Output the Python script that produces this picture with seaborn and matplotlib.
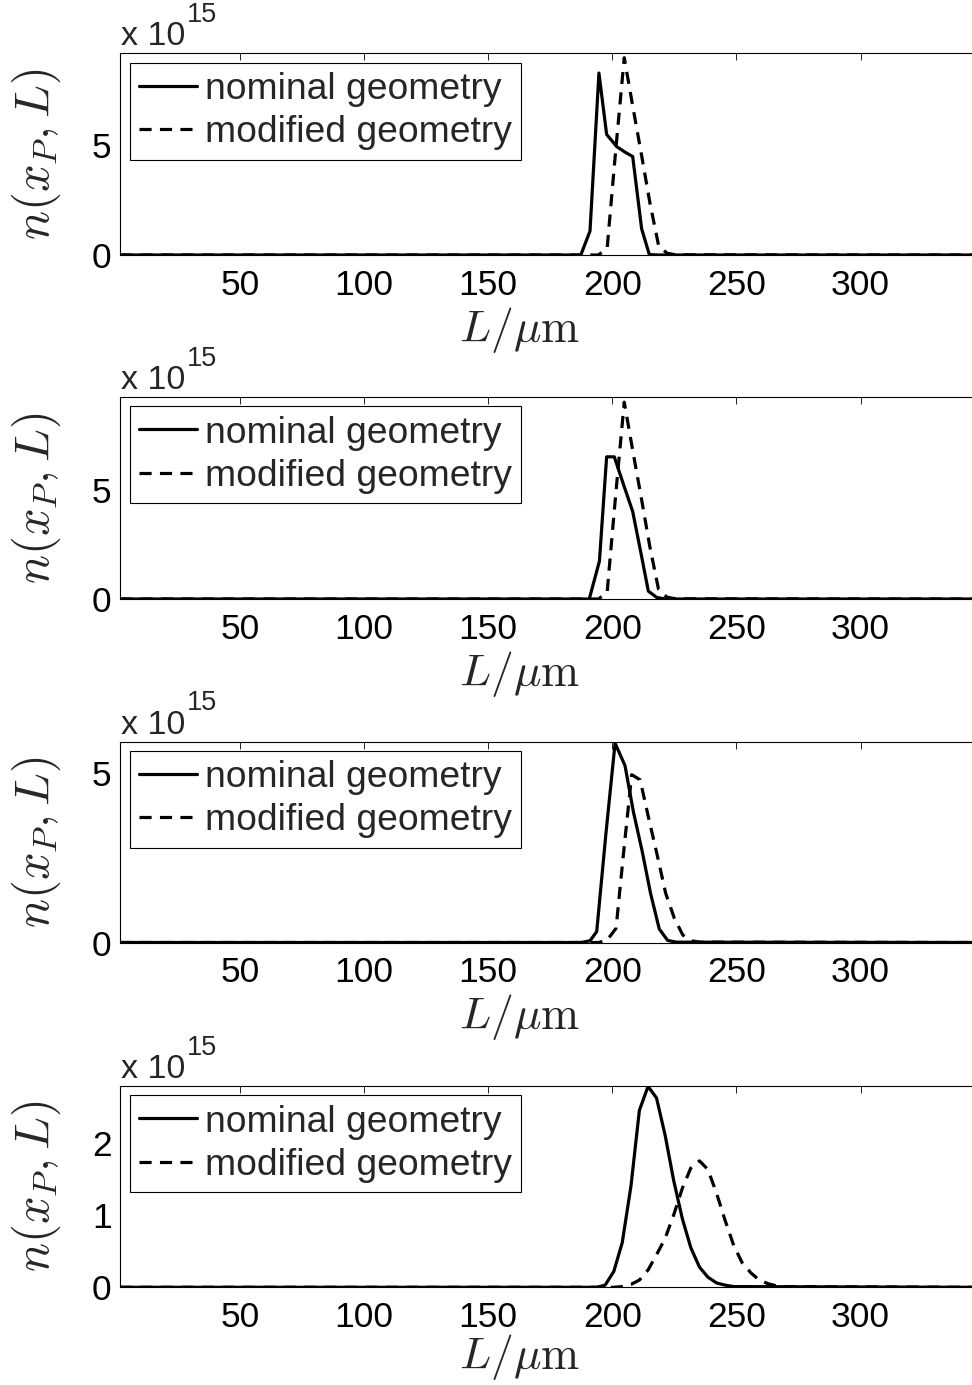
import numpy as np
import pandas as pd
import matplotlib
matplotlib.use("Agg")
import matplotlib.pyplot as plt
import seaborn as sns

# ---------------- data (values in units of 1e15) ----------------
labels = ["nominal geometry", "modified geometry"]
xticks = [50, 100, 150, 200, 250, 300]

L1_nom = [1.7, 187.3, 191.0, 194.6, 197.7, 201.8, 205.0, 208.2, 211.8, 214.9, 218.4, 345]
n1_nom = [0, 0, 1.09, 8.3, 5.5, 4.94, 4.7, 4.49, 1.2, 0.02, 0, 0]
L1_mod = [1.7, 194.4, 197.9, 201.3, 204.8, 208.2, 211.7, 215.1, 218.6, 222.0, 225.5, 345]
n1_mod = [0, 0, 0.3, 4.7, 9.0, 6.8, 4.6, 2.4, 0.45, 0.08, 0.01, 0]

L2_nom = [1.7, 190.7, 194.8, 197.7, 200.8, 204.3, 208.2, 211.7, 214.5, 217.9, 221.4, 345]
n2_nom = [0, 0, 1.73, 6.5, 6.5, 5.3, 4.0, 2.0, 0.36, 0.07, 0, 0]
L2_mod = [1.7, 194.4, 197.9, 201.3, 204.8, 208.2, 211.7, 215.1, 218.6, 222.0, 225.5, 345]
n2_mod = [0, 0, 0.3, 4.7, 9.0, 6.8, 4.6, 2.4, 0.45, 0.08, 0.01, 0]

L3_nom = [1.7, 187.5, 191.0, 193.7, 197.4, 201.1, 205.1, 208.5, 212.0, 215.4, 218.9, 222.3, 225.8, 345]
n3_nom = [0, 0, 0.05, 0.32, 3.2, 5.88, 5.22, 3.85, 2.7, 1.45, 0.4, 0.06, 0.01, 0]
L3_mod = [1.7, 194.6, 198.0, 201.5, 204.6, 207.8, 211.2, 214.6, 218.1, 221.5, 225.0, 228.4, 231.9, 235.3, 345]
n3_mod = [0, 0, 0.08, 0.42, 2.7, 4.95, 4.8, 3.68, 2.57, 1.45, 0.71, 0.22, 0.05, 0.01, 0]

L4_nom = [1.7, 190.2, 193.7, 197.1, 200.6, 204.0, 207.5, 210.9, 214.4, 217.8, 221.3, 224.7,
          228.2, 231.6, 235.1, 238.5, 242.0, 245.4, 248.9, 345]
n4_nom = [0, 0, 0.0, 0.03, 0.22, 0.62, 1.4, 2.45, 2.78, 2.62, 2.1, 1.48,
          0.95, 0.55, 0.28, 0.14, 0.06, 0.03, 0.01, 0]
L4_mod = [1.7, 200.6, 204.0, 207.5, 210.9, 214.4, 217.8, 221.3, 224.7, 228.2, 231.6, 235.1,
          238.5, 242.0, 245.4, 248.9, 252.3, 255.8, 259.2, 262.7, 266.1, 269.6, 345]
n4_mod = [0, 0, 0.01, 0.04, 0.1, 0.24, 0.45, 0.68, 1.0, 1.37, 1.65, 1.75,
          1.63, 1.3, 0.93, 0.58, 0.34, 0.2, 0.1, 0.05, 0.02, 0.01, 0]

yticks = [[0, 5], [0, 5], [0, 5], [0, 1, 2]]
ytops = [9.2, 9.25, 5.93, 2.79]

series = [(L1_nom, n1_nom, L1_mod, n1_mod),
          (L2_nom, n2_nom, L2_mod, n2_mod),
          (L3_nom, n3_nom, L3_mod, n3_mod),
          (L4_nom, n4_nom, L4_mod, n4_mod)]

# ---------------- style ----------------
sns.set_theme(style="white")
plt.rcParams["font.family"] = ["Liberation Sans", "DejaVu Sans"]
plt.rcParams["mathtext.fontset"] = "cm"

W, H = 972, 1385
fig = plt.figure(figsize=(W / 100, H / 100), dpi=100)

left_px, right_px = 120, 972
tops = [53.3, 396.7, 741.5, 1085.7]
bottoms = [255, 599, 942.5, 1287.3]
xlab_off = [75, 75, 75, 70]

for i, (Ln, nn, Lm, nm) in enumerate(series):
    top, bot = tops[i], bottoms[i]
    h = bot - top
    ax = fig.add_axes([left_px / W, 1 - bot / H, (right_px - left_px) / W, h / H])
    dfn = pd.DataFrame({"L": Ln, "n": nn})
    dfm = pd.DataFrame({"L": Lm, "n": nm})
    sns.lineplot(data=dfn, x="L", y="n", ax=ax, color="black", linewidth=2.3,
                 estimator=None, label=labels[0])
    sns.lineplot(data=dfm, x="L", y="n", ax=ax, color="black", linewidth=2.3,
                 estimator=None, label=labels[1], linestyle=(0, (3.8, 2.6)))
    ax.set_xlim(1.65, 344.9)
    ax.set_ylim(0, ytops[i])
    ax.set_xticks(xticks)
    ax.set_yticks(yticks[i])
    ax.tick_params(direction="in", length=5, width=0.6, top=True, right=False,
                   labelsize=25.5, pad=10, colors="black")
    ax.tick_params(axis="y", pad=6)
    for side in ["left", "top", "bottom"]:
        ax.spines[side].set_visible(True)
        ax.spines[side].set_color("black")
        ax.spines[side].set_linewidth(0.8)
    ax.spines["right"].set_visible(False)

    ax.set_xlabel(r"$L/\mu\mathrm{m}$", fontsize=33)
    ax.xaxis.set_label_coords((520 - left_px) / (right_px - left_px), -xlab_off[i] / h)
    ax.xaxis.label.set_va("center")
    ax.set_ylabel(r"$n(x_P,L)$", fontsize=35)
    ax.yaxis.set_label_coords((36 - left_px) / (right_px - left_px), 0.5)
    ax.yaxis.label.set_va("center")

    leg = ax.legend(loc="upper left", bbox_to_anchor=(9.5 / 852, 1 - 9.5 / h),
                    borderaxespad=0, fontsize=26.8, frameon=True, fancybox=False,
                    edgecolor="black", framealpha=1, handlelength=1.55,
                    handletextpad=0.22, borderpad=0.25, labelspacing=0.22)
    leg.get_frame().set_linewidth(0.8)

    fig.text(121 / W, 1 - (top - 8) / H, "x 10", fontsize=24.5, ha="left", va="baseline")
    fig.text(187 / W, 1 - (top - 31) / H, "15", fontsize=19.5, ha="left", va="baseline")

fig.savefig("out.png", dpi=100)
